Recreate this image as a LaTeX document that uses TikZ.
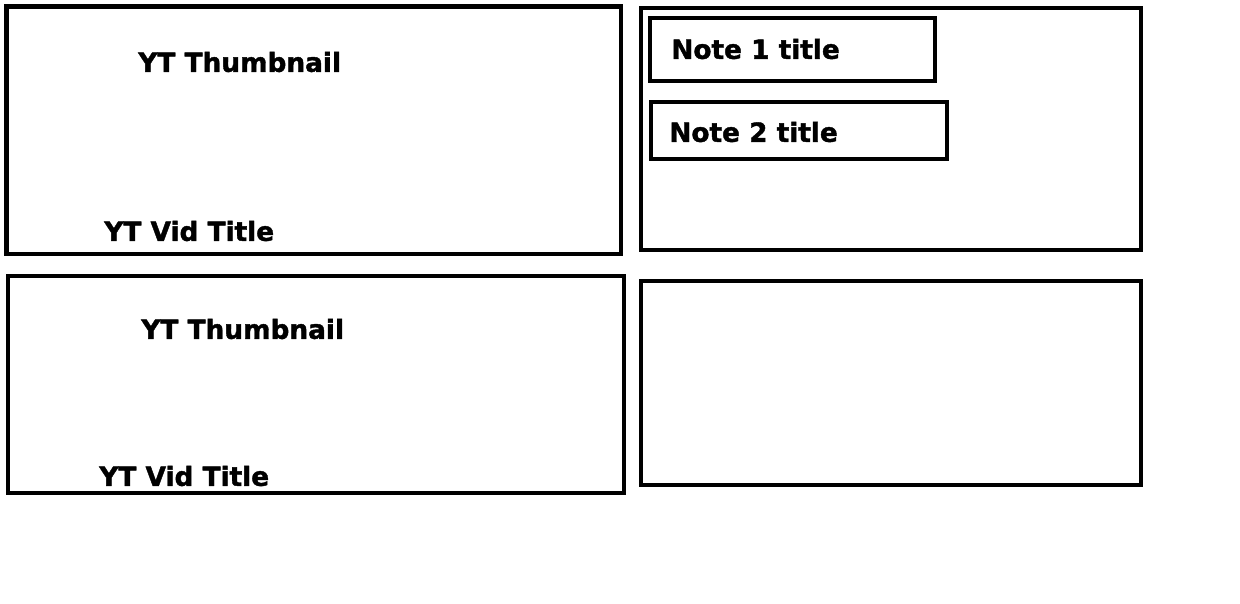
\documentclass[tikz,border=0pt]{standalone}
\usepackage{fontspec}
\setmainfont{DejaVu Sans}[BoldFeatures={FakeBold=1.5}]
\tikzset{
    panel/.style={draw, line width=2.8pt},
    lbl/.style={anchor=west, inner sep=0pt, font=\fontsize{15}{18}\selectfont\bfseries}
}
\begin{document}
\begin{tikzpicture}[x=0.02cm, y=-0.02cm]
    \useasboundingbox (0,0) rectangle (1240,604);
    \draw [panel] (6.5,6.5) rectangle (621,254);
    \draw [panel] (641,8) rectangle (1141,250);
    \draw [panel] (650,18) rectangle (935,81);
    \draw [panel] (651,102) rectangle (947,159);
    \draw [panel] (8,276) rectangle (624,493);
    \draw [panel] (641,281) rectangle (1141,485);
    \node [lbl] (thumbA) at (138,62) {YT Thumbnail};
    \node [lbl] (titleA) at (104,231) {YT Vid Title};
    \node [lbl] (noteA) at (671,49) {Note 1 title};
    \node [lbl] (noteB) at (669,132) {Note 2 title};
    \node [lbl] (thumbB) at (141,329) {YT Thumbnail};
    \node [lbl] (titleB) at (99,476) {YT Vid Title};
\end{tikzpicture}
\end{document}
